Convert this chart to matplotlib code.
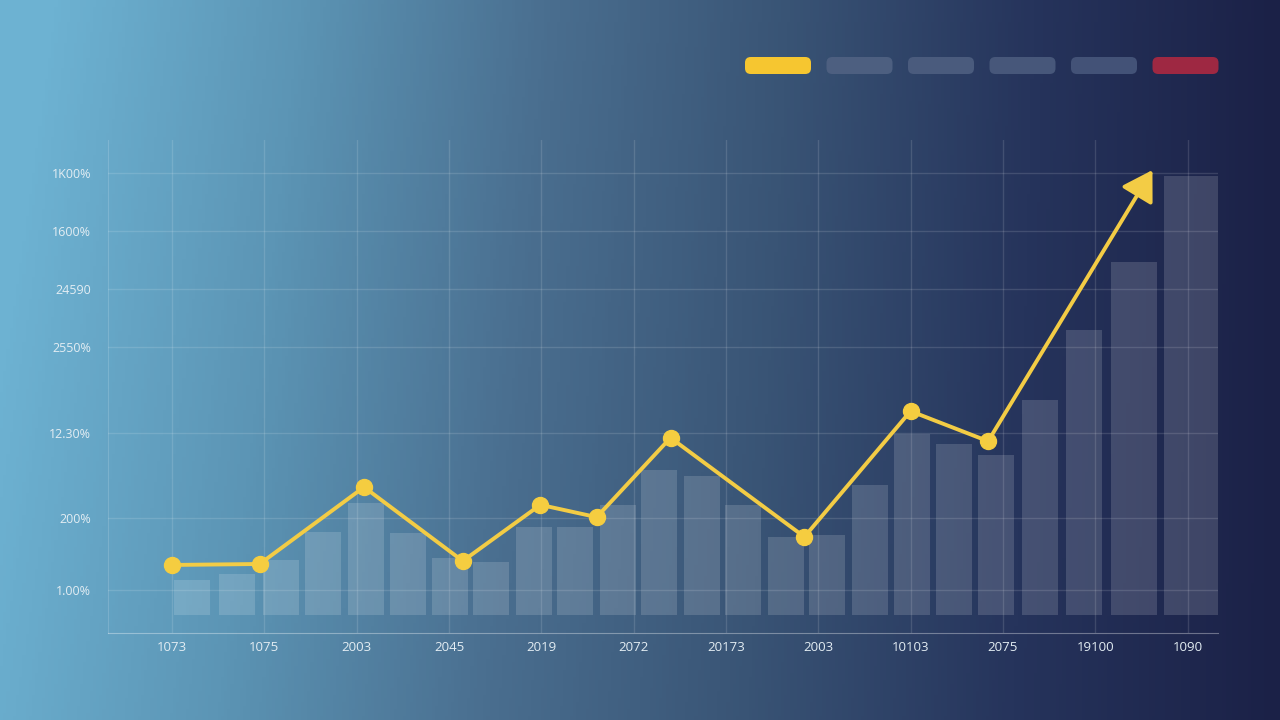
import matplotlib
matplotlib.use("Agg")
import matplotlib.pyplot as plt
import numpy as np
from matplotlib.patches import FancyBboxPatch
from matplotlib.colors import LinearSegmentedColormap

# --- data ---
x_labels = ["1073", "1075", "2003", "2045", "2019", "2072",
            "20173", "2003", "10103", "2075", "19100", "1090"]
y_tick_pos = [8.7, 23.3, 40.6, 58.0, 69.8, 81.5, 93.3]
y_labels = ["1.00%", "200%", "12.30%", "2550%", "24590", "1600%", "1K00%"]

line_x = [0.0, 0.95, 2.08, 3.15, 3.99, 4.6, 5.4, 6.85, 8.0, 8.84]
line_y = [13.8, 14.0, 29.6, 14.6, 26.0, 23.5, 39.6, 19.5, 45.0, 38.9]
arrow_tip = (10.62, 93.9)

bar_x = [0.22, 0.70, 1.18, 1.64, 2.10, 2.56, 3.01, 3.46, 3.92, 4.37, 4.83, 5.28,
         5.74, 6.19, 6.65, 7.10, 7.56, 8.02, 8.47, 8.93, 9.40, 9.88, 10.42, 11.04]
bar_top = [10.8, 12.0, 14.8, 20.5, 26.4, 20.3, 15.2, 14.4, 21.5, 21.5, 26.0, 33.1,
           31.9, 26.0, 19.5, 19.9, 30.0, 40.4, 38.3, 36.1, 47.3, 61.5, 75.3, 92.7]
bar_base = 3.65

pill_colors = ["#f6c630", "#4d5f80", "#4a5b7d", "#47577a", "#435277", "#9e2842"]

W, H = 1280, 720
fig = plt.figure(figsize=(12.8, 7.2), dpi=100)

# background gradient
bg = fig.add_axes([0, 0, 1, 1])
bg.set_axis_off()
cmap = LinearSegmentedColormap.from_list(
    "bg", ["#6db2d2", "#5c95b5", "#4a6f90", "#395475", "#26345c", "#1b2147"])
gx = np.linspace(0, 1, 400)
gy = np.linspace(0, 1, 200)
GX, GY = np.meshgrid(gx, gy)
grad = np.clip(GX * 0.97 - (GY - 0.5) * 0.08 * (1 - GX), 0, 1)
bg.imshow(grad, cmap=cmap, aspect="auto", extent=[0, 1, 0, 1], origin="lower")
bg.set_xlim(0, 1)
bg.set_ylim(0, 1)

# main chart area
ax = fig.add_axes([108 / W, 87 / H, 1110 / W, 493 / H])
ax.set_facecolor("none")
ax.set_xlim(-0.693, 11.33)
ax.set_ylim(0, 100)

widths = np.full(len(bar_x), 0.39)
widths[-2] = 0.50
widths[-1] = 0.60
ax.bar(bar_x, np.array(bar_top) - bar_base, bottom=bar_base, width=widths,
       color="white", alpha=0.15, linewidth=0, zorder=2)

ax.plot(line_x, line_y, color="#f3cc45", lw=2.8, marker="o", ms=11.5,
        mfc="#f5cd40", mec="#f5cd40", zorder=4, solid_joinstyle="round")
ax.annotate("", xy=arrow_tip, xytext=(line_x[-1], line_y[-1]),
            arrowprops=dict(arrowstyle="-|>,head_length=0.9,head_width=0.55",
                            color="#f3cc45", lw=2.8, mutation_scale=20,
                            shrinkA=0, shrinkB=0),
            zorder=5)

ax.set_xticks(range(len(x_labels)))
ax.set_xticklabels(x_labels)
ax.set_yticks(y_tick_pos)
ax.set_yticklabels(y_labels)
ax.tick_params(length=0, labelsize=9.5, labelcolor="#e3edf3")
ax.tick_params(axis="x", pad=6)
ax.tick_params(axis="y", pad=12, labelsize=9)
for t in ax.get_xticklabels() + ax.get_yticklabels():
    t.set_family("Open Sans")
ax.grid(True, color="white", alpha=0.13, lw=1)
ax.set_axisbelow(True)
for s in ["top", "right"]:
    ax.spines[s].set_visible(False)
ax.spines["bottom"].set_color((1, 1, 1, 0.35))
ax.spines["left"].set_color((1, 1, 1, 0.15))

# decorative pills at the top right
pw, ph, gap = 66 / W, 17 / H, 15.5 / W
x0, y0 = 745 / W, (720 - 74) / H
for i, c in enumerate(pill_colors):
    p = FancyBboxPatch((x0 + i * (pw + gap), y0), pw, ph,
                       boxstyle="round,pad=0,rounding_size=0.0045",
                       transform=fig.transFigure, facecolor=c,
                       edgecolor="none", mutation_aspect=W / H)
    fig.patches.append(p)

fig.savefig("out.png", dpi=100)
